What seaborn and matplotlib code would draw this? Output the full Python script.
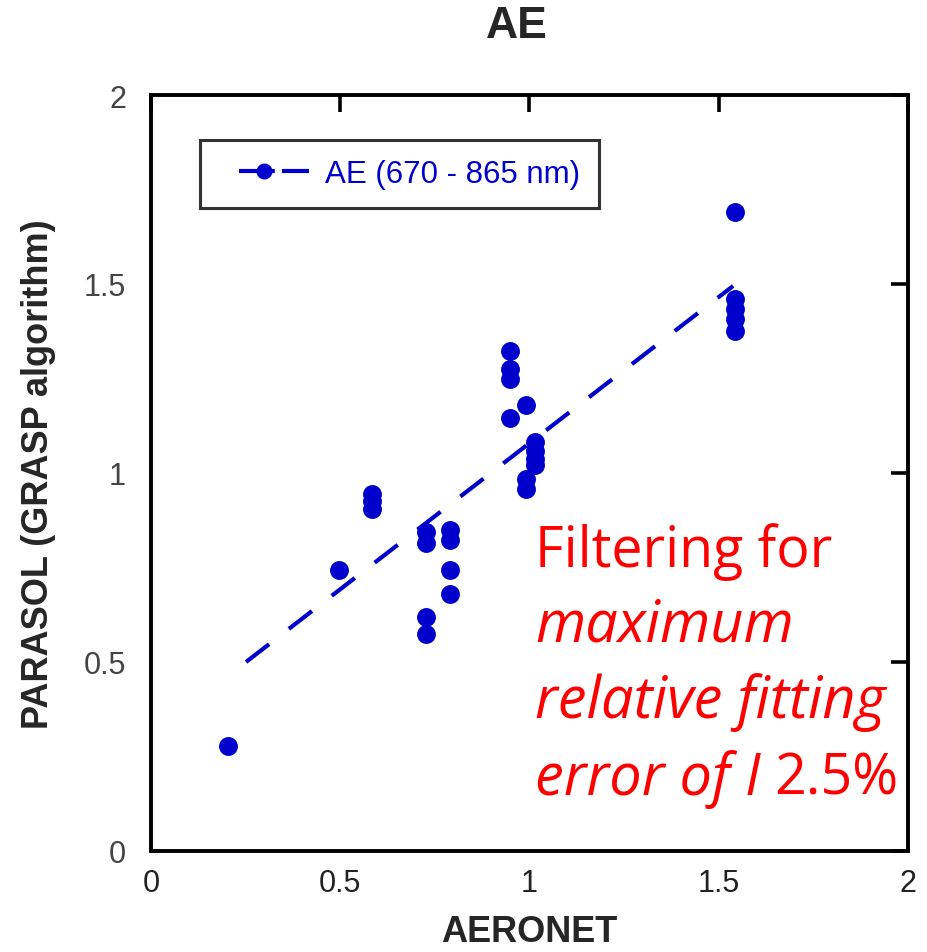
import matplotlib
matplotlib.use("Agg")
import matplotlib.pyplot as plt
from matplotlib.lines import Line2D
import seaborn as sns
import pandas as pd
import numpy as np

# ---- data ----
aeronet = [0.203, 0.497,
           0.584, 0.584, 0.584,
           0.727, 0.727, 0.727, 0.727,
           0.79, 0.79, 0.79, 0.79,
           0.948, 0.948, 0.948, 0.948,
           0.99, 0.99, 0.99,
           1.015, 1.015, 1.015, 1.015,
           1.543, 1.543, 1.543, 1.543, 1.543]
parasol = [0.278, 0.743,
           0.945, 0.925, 0.905,
           0.843, 0.815, 0.619, 0.574,
           0.85, 0.822, 0.743, 0.68,
           1.323, 1.275, 1.249, 1.145,
           1.18, 0.984, 0.958,
           1.082, 1.058, 1.037, 1.021,
           1.69, 1.46, 1.434, 1.407, 1.376]
fit_x = [0.251, 1.538]
fit_slope = 0.773
fit_intercept = 0.306
series_label = "AE (670 - 865 nm)"
title = "AE"
xlabel = "AERONET"
ylabel = "PARASOL (GRASP algorithm)"
ticks = [0, 0.5, 1, 1.5, 2]
tick_labels = ["0", "0.5", "1", "1.5", "2"]
note_lines = ["Filtering for", "maximum", "relative fitting", "error of I", "2.5%"]

BLUE = "#0000cc"
RED = "#ff0000"
SANS = ["Liberation Sans", "DejaVu Sans"]

sns.set_style("white")
plt.rcParams["font.family"] = SANS

fig = plt.figure(figsize=(9.28, 9.53), dpi=100)
ax = fig.add_axes([151/928, 101/953, (908-151)/928, (852-96)/953])

df = pd.DataFrame({"x": aeronet, "y": parasol})
sns.scatterplot(data=df, x="x", y="y", ax=ax, color=BLUE, s=185,
                edgecolor=BLUE, linewidth=0, zorder=3, legend=False)

fx = np.array(fit_x)
fit_df = pd.DataFrame({"x": fx, "y": fit_intercept + fit_slope * fx})
sns.lineplot(data=fit_df, x="x", y="y", ax=ax, color=BLUE, lw=3.0,
             dashes=False, zorder=2, legend=False)
ax.lines[-1].set_dashes((7, 6))
ax.lines[-1].set_dash_capstyle("butt")

ax.set_xlim(0, 2)
ax.set_ylim(0, 2)
ax.set_xticks(ticks)
ax.set_xticklabels(tick_labels)
ax.set_yticks(ticks)
ax.set_yticklabels(tick_labels)
ax.tick_params(direction="in", length=12, width=2.6, labelsize=22,
               top=True, right=True, left=False, colors="black")
ax.tick_params(axis="x", pad=12, labelcolor="#222222")
ax.tick_params(axis="y", pad=18, labelcolor="#444444")
for s in ax.spines.values():
    s.set_linewidth(2.8)
    s.set_color("black")

ax.set_xlabel(xlabel, fontsize=26, fontweight="bold", labelpad=12)
ax.set_ylabel(ylabel, fontsize=26, fontweight="bold", labelpad=20)
fig.text(517/928, 1 - 27/953, title, fontsize=32, fontweight="bold",
         ha="center", va="center")

handle = Line2D([], [], color=BLUE, lw=3.0, marker="o", markersize=10.5,
                linestyle=(32, (8.6, 1.7, 6.5, 20)), dash_capstyle="butt")
leg = ax.legend([handle], [series_label], loc="upper left",
                bbox_to_anchor=(49/757, 1 - 45/756), frameon=True, fancybox=False,
                handlelength=2.9, borderpad=0.6, borderaxespad=0,
                handletextpad=0.5,
                prop={"family": SANS, "size": 22.5})
leg.get_frame().set_edgecolor("black")
leg.get_frame().set_linewidth(2.2)
for t in leg.get_texts():
    t.set_color(BLUE)

# red annotation
tfam = ["Open Sans", "DejaVu Sans"]
fs = 40
baselines = [567, 642, 718, 795]
x0 = 535 / 928
def fy(p):
    return 1 - p / 953
styles = ["normal", "italic", "italic", "italic"]
sizes = [fs, fs + 1.5, fs + 1.5, fs + 1.5]
texts = []
for i in range(4):
    texts.append(fig.text(x0, fy(baselines[i]), note_lines[i], color=RED, fontsize=sizes[i],
                          family=tfam, style=styles[i], va="baseline"))
fig.canvas.draw()
bb = texts[3].get_window_extent(renderer=fig.canvas.get_renderer())
fig.text((bb.x1 + 14) / fig.bbox.width, fy(baselines[3]), note_lines[4], color=RED,
         fontsize=fs, family=tfam, va="baseline")

fig.savefig("out.png", dpi=100)
